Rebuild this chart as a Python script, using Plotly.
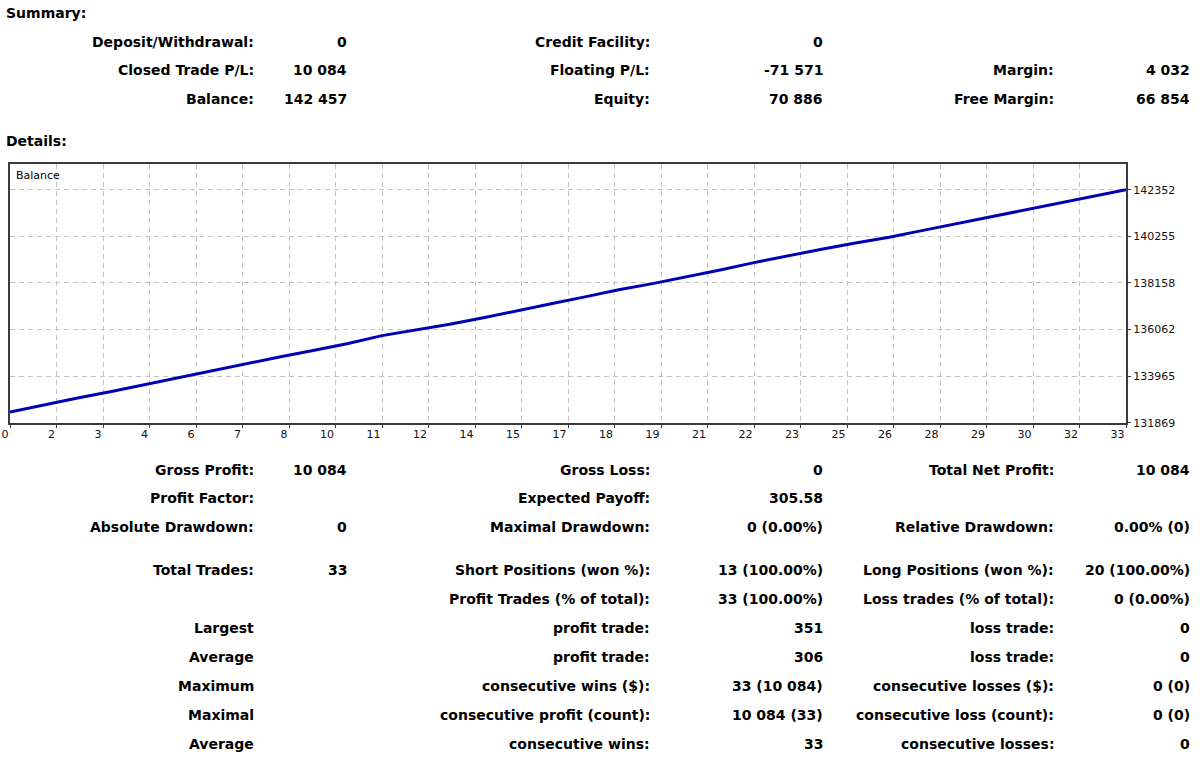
import plotly.graph_objects as go

W, H = 1200, 758

# balance after each trade (trade 0 = start)
trades = list(range(34))
balance = [132352, 132681, 132983, 133276, 133592, 133901, 134209, 134516,
           134834, 135126, 135435, 135786, 136026, 136295, 136591, 136920,
           137219, 137531, 137853, 138126, 138426, 138742, 139071, 139386,
           139677, 139950, 140212, 140521, 140827, 141125, 141433, 141739,
           142046, 142351]

x_labels = ['0', '2', '3', '4', '6', '7', '8', '10', '11', '12', '14', '15', '17',
            '18', '19', '21', '22', '23', '25', '26', '28', '29', '30', '32', '33']
y_ticks = [131869, 133965, 136062, 138158, 140255, 142352]

# summary block: (label, value) per column, one list per row
summary_rows = [
    [("Deposit/Withdrawal:", "0"), ("Credit Facility:", "0"), ("", "")],
    [("Closed Trade P/L:", "10 084"), ("Floating P/L:", "-71 571"), ("Margin:", "4 032")],
    [("Balance:", "142 457"), ("Equity:", "70 886"), ("Free Margin:", "66 854")],
]

details_rows = [
    [("Gross Profit:", "10 084"), ("Gross Loss:", "0"), ("Total Net Profit:", "10 084")],
    [("Profit Factor:", ""), ("Expected Payoff:", "305.58"), ("", "")],
    [("Absolute Drawdown:", "0"), ("Maximal Drawdown:", "0 (0.00%)"), ("Relative Drawdown:", "0.00% (0)")],
    [("Total Trades:", "33"), ("Short Positions (won %):", "13 (100.00%)"), ("Long Positions (won %):", "20 (100.00%)")],
    [("", ""), ("Profit Trades (% of total):", "33 (100.00%)"), ("Loss trades (% of total):", "0 (0.00%)")],
    [("Largest", ""), ("profit trade:", "351"), ("loss trade:", "0")],
    [("Average", ""), ("profit trade:", "306"), ("loss trade:", "0")],
    [("Maximum", ""), ("consecutive wins ($):", "33 (10 084)"), ("consecutive losses ($):", "0 (0)")],
    [("Maximal", ""), ("consecutive profit (count):", "10 084 (33)"), ("consecutive loss (count):", "0 (0)")],
    [("Average", ""), ("consecutive wins:", "33"), ("consecutive losses:", "0")],
]

summary_y = [42, 70, 99]
details_y = [470, 498, 527, 570, 599, 628, 657, 686, 715, 744]
label_right = [256, 652, 1056]
value_right = [349, 825, 1192]

BOLD = "DejaVu Sans"


def px_x(x):
    return x / W


def px_y(y):
    return 1 - y / H


fig = go.Figure()

fig.add_trace(go.Scatter(x=trades, y=balance, mode='lines',
                         line=dict(color='#0000b4', width=3),
                         hoverinfo='skip', showlegend=False))

annotations = []


def add_text(text, x, y, anchor='right', size=14, bold=True):
    if not text:
        return
    annotations.append(dict(
        text='<b>%s</b>' % text if bold else text,
        x=px_x(x), y=px_y(y), xref='paper', yref='paper',
        xanchor=anchor, yanchor='middle', showarrow=False,
        font=dict(family=BOLD, size=size, color='black')))


add_text("Summary:", 4, 13, anchor='left')
add_text("Details:", 4, 141, anchor='left')

for rows, ys in ((summary_rows, summary_y), (details_rows, details_y)):
    for row, y in zip(rows, ys):
        for col, (lab, val) in enumerate(row):
            add_text(lab, label_right[col], y)
            add_text(val, value_right[col], y)

add_text("Balance", 14, 176, anchor='left', size=11, bold=False)

grid = dict(showgrid=True, gridcolor='#c4c4c4', gridwidth=1, griddash='5px,4px',
            showline=True, linecolor='#3a3a3a', linewidth=2, mirror=True,
            ticks='outside', ticklen=3, tickcolor='#3a3a3a', zeroline=False,
            automargin=False,
            tickfont=dict(family="DejaVu Sans", size=11, color='#111'))

fig.update_layout(
    width=W, height=H,
    margin=dict(l=0, r=0, t=0, b=0, pad=0),
    paper_bgcolor='white', plot_bgcolor='white',
    annotations=annotations,
    xaxis=dict(domain=[px_x(10), px_x(1126)], range=[0, 33],
               tickmode='array',
               tickvals=[i * 33 / (len(x_labels) - 1) for i in range(len(x_labels))],
               ticktext=x_labels, ticklabelposition='outside left', **grid),
    yaxis=dict(domain=[px_y(422.7), px_y(164.3)], range=[131869, 143495],
               side='right', tickmode='array', tickvals=y_ticks,
               ticktext=[str(v) for v in y_ticks], **grid),
)

fig.write_html("out.html", config={'displayModeBar': False},
               post_script="document.body.style.margin = '0';")
